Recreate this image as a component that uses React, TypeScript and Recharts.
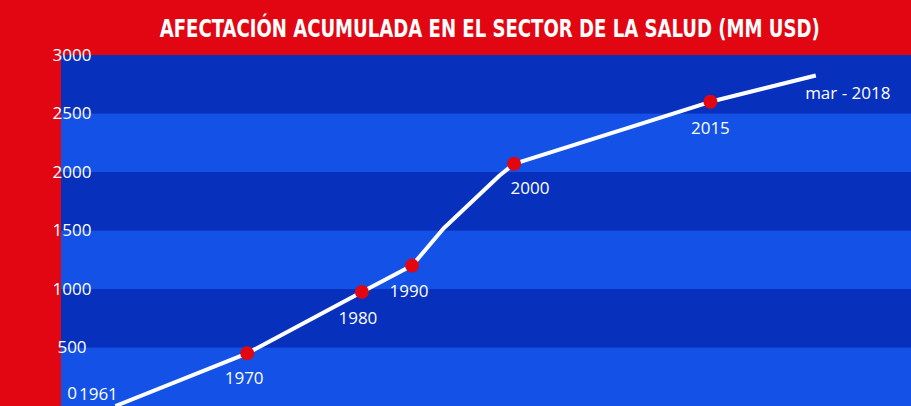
import React from 'react';
import { LineChart, Line, XAxis, YAxis, ReferenceArea, LabelList } from 'recharts';

// horizontal placement along the (non-linear) timeline, 0–100 units
const timeline = [6.4, 21.9, 35.4, 41.3, 45.0, 51.6, 53.3, 76.4, 88.8];
const values = [0, 450, 975, 1200, 1517, 1970, 2070, 2600, 2825];
const pointLabels = ['1961', '1970', '1980', '1990', '', '', '2000', '2015', 'mar - 2018'];
const markers = [false, true, true, true, false, false, true, true, false];
const yTicks = [0, 500, 1000, 1500, 2000, 2500, 3000];

const TITLE = 'AFECTACIÓN ACUMULADA EN EL SECTOR DE LA SALUD (MM USD)';

const RED = '#e20613';
const DARK_BLUE = '#0731bd';
const LIGHT_BLUE = '#1351e7';
const SEAM_BLUE = '#1a3cc4';

const labelOffsets: Record<string, [number, number]> = {
  '1961': [-17, -12],
  '1970': [-3, 25],
  '1980': [-4, 26],
  '1990': [-3, 25],
  '2000': [16, 24],
  '2015': [0, 26],
  'mar - 2018': [32, 18],
};

const data = timeline.map((t, i) => ({
  t,
  value: values[i],
  label: pointLabels[i],
  marker: markers[i],
}));

const bands = yTicks.slice(0, -1).map((v, i) => ({
  y1: v,
  y2: yTicks[i + 1],
  fill: (yTicks.length - 2 - i) % 2 === 0 ? DARK_BLUE : LIGHT_BLUE,
}));

const FONT = '"Open Sans", "Noto Sans", sans-serif';

const YTick = (props: any) => {
  const { y, payload } = props;
  const shift = payload.value === 0 ? -13 : 0;
  return (
    <text
      x={72}
      y={y + shift}
      dy="0.35em"
      textAnchor="middle"
      fill="#ffffff"
      fontFamily={FONT}
      fontSize={17}
    >
      {payload.value}
    </text>
  );
};

const Dot = (props: any) => {
  const { cx, cy, payload, index } = props;
  if (!payload || !payload.marker) return <g key={`d${index}`} />;
  return <circle key={`d${index}`} cx={cx} cy={cy} r={7} fill={RED} stroke="none" />;
};

const PointLabel = (props: any) => {
  const { x, y, value, index } = props;
  if (!value) return null;
  const off = labelOffsets[value] || [0, 25];
  return (
    <text
      key={`l${index}`}
      x={x + off[0]}
      y={y + off[1]}
      dy="0.35em"
      textAnchor="middle"
      fill="#ffffff"
      fontFamily={FONT}
      fontSize={17}
    >
      {value}
    </text>
  );
};

export default function App() {
  return (
    <div
      style={{
        position: 'absolute',
        left: 0,
        top: 0,
        width: 911,
        height: 406,
        background: RED,
        overflow: 'hidden',
      }}
    >
      <div style={{ position: 'absolute', left: 0, top: 0 }}>
        <LineChart
          width={911}
          height={406}
          data={data}
          margin={{ top: 55, right: 0, bottom: 0, left: 0 }}
        >
          <XAxis dataKey="t" type="number" domain={[0, 100]} hide />
          <YAxis
            type="number"
            domain={[0, 3000]}
            ticks={yTicks}
            width={61}
            axisLine={false}
            tickLine={false}
            tick={<YTick />}
            interval={0}
          />
          <ReferenceArea
            y1={yTicks[0]}
            y2={yTicks[yTicks.length - 1]}
            fill={SEAM_BLUE}
            fillOpacity={1}
            stroke="none"
          />
          {bands.map((b, i) => (
            <ReferenceArea
              key={i}
              y1={b.y1}
              y2={b.y2}
              fill={b.fill}
              fillOpacity={1}
              stroke="none"
            />
          ))}
          <Line
            type="linear"
            dataKey="value"
            stroke="#ffffff"
            strokeWidth={4}
            strokeLinejoin="round"
            dot={<Dot />}
            activeDot={false}
            isAnimationActive={false}
          >
            <LabelList dataKey="label" content={<PointLabel />} />
          </Line>
        </LineChart>
      </div>
      <svg width={911} height={55} style={{ position: 'absolute', left: 0, top: 0 }}>
        <text
          transform="translate(489.7,37.3) scale(1,1.22)"
          x={0}
          y={0}
          textAnchor="middle"
          fill="#ffffff"
          fontFamily='"DejaVu Sans Condensed", "Liberation Sans Narrow", sans-serif'
          fontWeight="bold"
          fontSize={20.1}
        >
          {TITLE}
        </text>
      </svg>
    </div>
  );
}
